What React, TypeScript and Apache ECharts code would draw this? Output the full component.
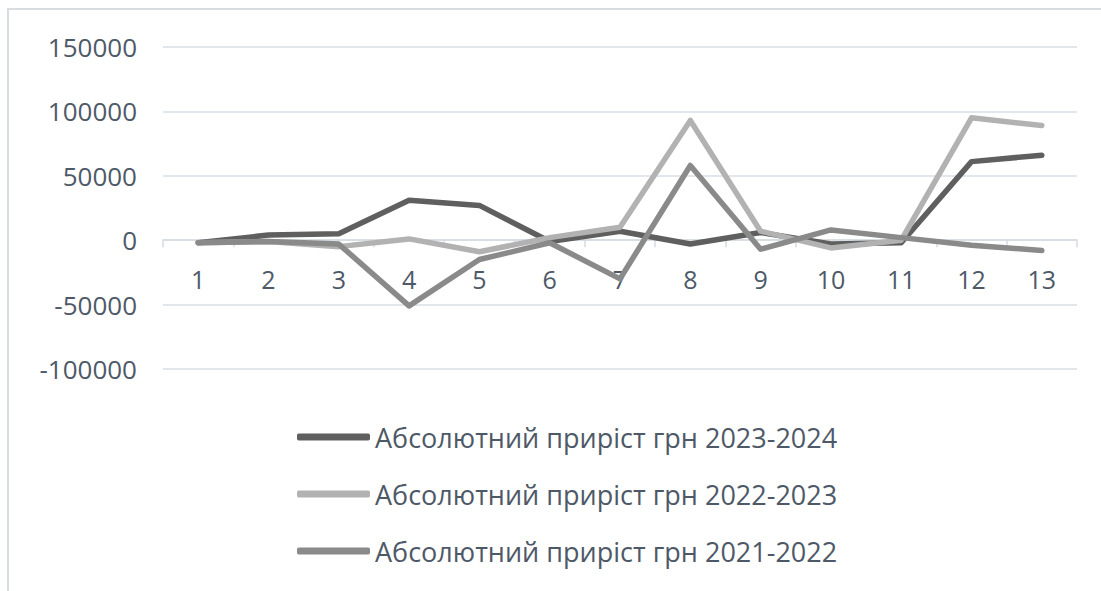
import React, { useEffect, useRef } from "react";
import * as echarts from "echarts";

// Row numbers along the category axis
const categories = ["1", "2", "3", "4", "5", "6", "7", "8", "9", "10", "11", "12", "13"];

// Absolute growth, UAH
const growth2023_2024 = [-2000, 4000, 5000, 31000, 27000, -1000, 7000, -3000, 6000, -3000, -2000, 61000, 66000];
const growth2022_2023 = [-2000, -1000, -5000, 1000, -9000, 2000, 10000, 93000, 7000, -6000, 0, 95000, 89000];
const growth2021_2022 = [-2000, -1000, -3000, -51000, -15000, -2000, -30000, 58000, -7000, 8000, 2000, -4000, -8000];

const seriesNames = [
  "Абсолютний приріст грн 2023-2024",
  "Абсолютний приріст грн 2022-2023",
  "Абсолютний приріст грн 2021-2022",
];
const seriesColors = ["#5f5f5f", "#b2b2b2", "#8a8a8a"];

const FONT = "'Open Sans', 'Noto Sans', sans-serif";
const TEXT_COLOR = "#4e5968";

export default function App() {
  const ref = useRef<HTMLDivElement>(null);

  useEffect(() => {
    if (!ref.current) return;
    const chart = echarts.init(ref.current, undefined, { renderer: "svg" });
    const values = [growth2023_2024, growth2022_2023, growth2021_2022];

    chart.setOption({
      animation: false,
      backgroundColor: "#ffffff",
      textStyle: { fontFamily: FONT },
      graphic: [
        {
          type: "rect",
          shape: { x: 8, y: 9, width: 1200, height: 700 },
          style: { fill: "none", stroke: "#d9dce1", lineWidth: 2 },
          silent: true,
        },
      ],
      grid: { left: 163, right: 24, top: 47, bottom: 222, containLabel: false },
      legend: {
        orient: "vertical",
        left: 292,
        top: 417,
        itemWidth: 73,
        itemHeight: 7,
        itemGap: 27,
        icon: "roundRect",
        data: seriesNames,
        textStyle: {
          fontFamily: FONT,
          fontSize: 27,
          color: TEXT_COLOR,
          lineHeight: 30,
        },
      },
      xAxis: {
        type: "category",
        data: categories,
        boundaryGap: true,
        axisLine: { onZero: true, lineStyle: { color: "#d6dbe2", width: 1.5 } },
        axisTick: { show: true, length: 7, lineStyle: { color: "#d6dbe2", width: 1.5 } },
        axisLabel: {
          // labels sit just under the zero line
          margin: -103,
          fontFamily: FONT,
          fontSize: 25,
          color: TEXT_COLOR,
        },
        splitLine: { show: false },
      },
      yAxis: {
        type: "value",
        min: -100000,
        max: 150000,
        interval: 50000,
        axisLine: { show: false },
        axisTick: { show: false },
        axisLabel: {
          margin: 26,
          fontFamily: FONT,
          fontSize: 26,
          color: TEXT_COLOR,
          formatter: (v: number) => String(v),
        },
        splitLine: { lineStyle: { color: "#d9dfe7", width: 1.5 } },
      },
      series: seriesNames.map((name, i) => ({
        name,
        type: "line",
        data: values[i],
        symbol: "none",
        showSymbol: false,
        color: seriesColors[i],
        lineStyle: { width: 5.5, color: seriesColors[i], cap: "round", join: "round" },
        itemStyle: { color: seriesColors[i] },
      })),
    });

    return () => chart.dispose();
  }, []);

  return (
    <div
      ref={ref}
      style={{ position: "fixed", left: 0, top: 0, width: 1101, height: 591 }}
    />
  );
}
